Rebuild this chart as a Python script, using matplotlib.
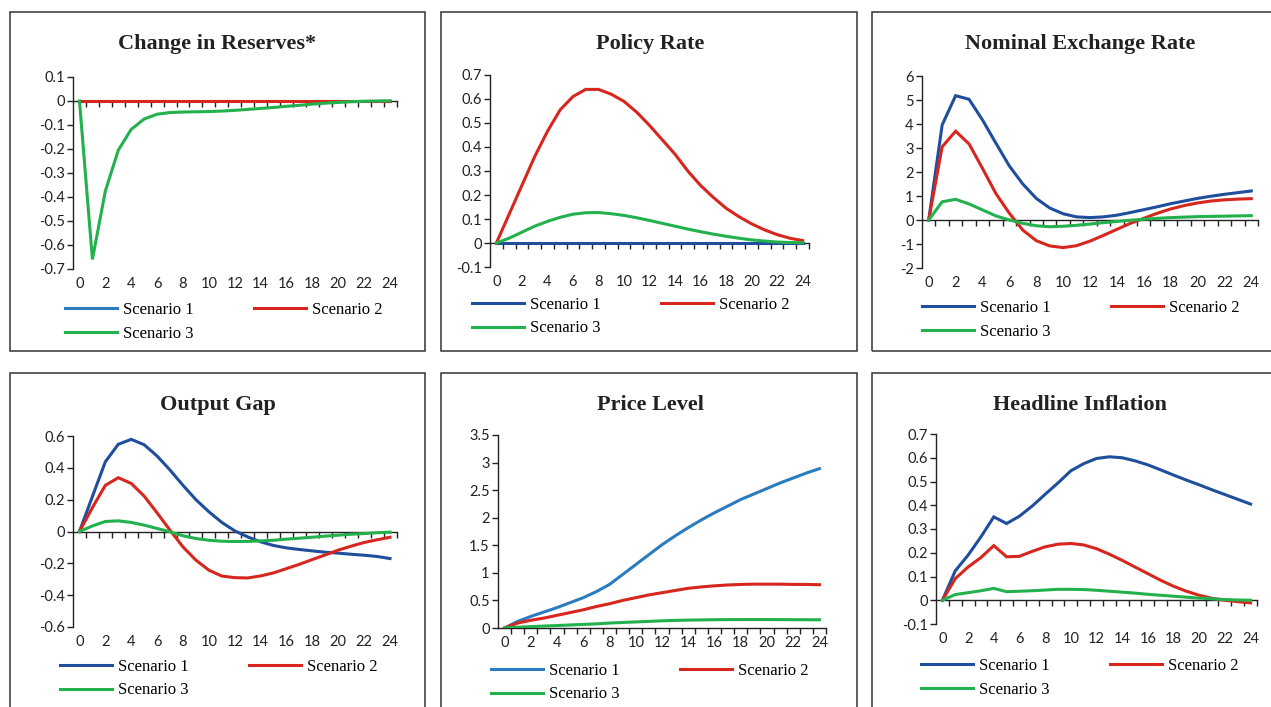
import matplotlib

matplotlib.use("Agg")

import matplotlib.pyplot as plt
from matplotlib.patches import Rectangle
from matplotlib.ticker import FuncFormatter

plt.rcParams["axes.unicode_minus"] = False

W, H = 1271, 707
TICK_FONT = "Lato"
TEXT_FONT = "Liberation Serif"

BLUE_LIGHT = "#2b7bbf"
BLUE_DARK = "#1f4e9c"
RED = "#d7261e"
GREEN = "#22b14c"

periods = list(range(25))
x_labels = list(range(0, 25, 2))
scenarios = ["Scenario 1", "Scenario 2", "Scenario 3"]

# Change in Reserves*
reserves_s1 = [0.0] * 25
reserves_s2 = [0.0] * 25
reserves_s3 = [0, -0.66, -0.375, -0.205, -0.118, -0.075, -0.055, -0.048, -0.046, -0.045,
               -0.044, -0.042, -0.039, -0.035, -0.031, -0.027, -0.022, -0.018, -0.013,
               -0.009, -0.006, -0.003, -0.001, 0.0, 0.001]
reserves_ticks = [0.1, 0, -0.1, -0.2, -0.3, -0.4, -0.5, -0.6, -0.7]

# Policy Rate
policy_s1 = [0.0] * 25
policy_s2 = [0, 0.12, 0.24, 0.36, 0.465, 0.555, 0.61, 0.64, 0.64, 0.62, 0.59, 0.545, 0.49,
             0.43, 0.37, 0.30, 0.24, 0.19, 0.145, 0.11, 0.08, 0.055, 0.035, 0.02, 0.01]
policy_s3 = [0, 0.02, 0.045, 0.07, 0.09, 0.107, 0.12, 0.126, 0.127, 0.122, 0.115, 0.105,
             0.094, 0.082, 0.07, 0.058, 0.047, 0.037, 0.028, 0.02, 0.013, 0.008, 0.004,
             0.002, 0.001]
policy_ticks = [0.7, 0.6, 0.5, 0.4, 0.3, 0.2, 0.1, 0, -0.1]

# Nominal Exchange Rate
fx_s1 = [0, 3.96, 5.18, 5.03, 4.17, 3.2, 2.25, 1.5, 0.9, 0.5, 0.26, 0.13, 0.1, 0.13, 0.2,
         0.31, 0.43, 0.55, 0.68, 0.79, 0.9, 0.99, 1.07, 1.14, 1.21]
fx_s2 = [0, 3.05, 3.7, 3.17, 2.15, 1.1, 0.28, -0.42, -0.86, -1.08, -1.15, -1.07, -0.88,
         -0.64, -0.39, -0.14, 0.07, 0.28, 0.46, 0.6, 0.71, 0.79, 0.84, 0.87, 0.89]
fx_s3 = [0, 0.76, 0.86, 0.67, 0.42, 0.17, 0.0, -0.14, -0.24, -0.28, -0.26, -0.22, -0.17,
         -0.11, -0.06, -0.01, 0.03, 0.07, 0.1, 0.12, 0.14, 0.15, 0.16, 0.17, 0.18]
fx_ticks = [6, 5, 4, 3, 2, 1, 0, -1, -2]

# Output Gap
gap_s1 = [0, 0.22, 0.438, 0.548, 0.579, 0.545, 0.474, 0.386, 0.29, 0.2, 0.124, 0.057,
          0.004, -0.034, -0.065, -0.088, -0.103, -0.113, -0.122, -0.13, -0.136, -0.143,
          -0.149, -0.157, -0.17]
gap_s2 = [0, 0.15, 0.29, 0.338, 0.302, 0.222, 0.117, 0.008, -0.097, -0.18, -0.243, -0.28,
          -0.29, -0.292, -0.279, -0.26, -0.233, -0.206, -0.176, -0.147, -0.117, -0.092,
          -0.069, -0.052, -0.036]
gap_s3 = [0, 0.035, 0.063, 0.067, 0.057, 0.04, 0.019, -0.002, -0.027, -0.044, -0.055,
          -0.061, -0.063, -0.062, -0.059, -0.055, -0.048, -0.042, -0.036, -0.029, -0.023,
          -0.017, -0.013, -0.008, -0.004]
gap_ticks = [0.6, 0.4, 0.2, 0, -0.2, -0.4, -0.6]

# Price Level
price_s1 = [0, 0.12, 0.21, 0.29, 0.37, 0.46, 0.55, 0.66, 0.79, 0.97, 1.15, 1.33, 1.51,
            1.67, 1.82, 1.96, 2.09, 2.21, 2.33, 2.43, 2.53, 2.63, 2.72, 2.81, 2.89]
price_s2 = [0, 0.09, 0.14, 0.18, 0.23, 0.28, 0.33, 0.39, 0.44, 0.5, 0.55, 0.6, 0.64, 0.68,
            0.72, 0.745, 0.765, 0.78, 0.79, 0.795, 0.795, 0.795, 0.79, 0.79, 0.785]
price_s3 = [0, 0.015, 0.025, 0.035, 0.045, 0.055, 0.065, 0.075, 0.09, 0.1, 0.11, 0.12, 0.13,
            0.138, 0.143, 0.147, 0.15, 0.152, 0.153, 0.153, 0.153, 0.152, 0.151, 0.15, 0.149]
price_ticks = [3.5, 3, 2.5, 2, 1.5, 1, 0.5, 0]

# Headline Inflation
infl_s1 = [0, 0.124, 0.19, 0.267, 0.351, 0.323, 0.354, 0.397, 0.446, 0.494, 0.545, 0.575,
           0.597, 0.604, 0.6, 0.587, 0.57, 0.549, 0.527, 0.506, 0.486, 0.465, 0.445,
           0.425, 0.405]
infl_s2 = [0, 0.091, 0.14, 0.18, 0.23, 0.183, 0.185, 0.206, 0.225, 0.236, 0.239, 0.233,
           0.217, 0.194, 0.168, 0.14, 0.112, 0.084, 0.059, 0.038, 0.021, 0.008, 0.0,
           -0.006, -0.011]
infl_s3 = [0, 0.024, 0.032, 0.04, 0.05, 0.036, 0.038, 0.04, 0.043, 0.046, 0.046, 0.045,
           0.042, 0.038, 0.034, 0.03, 0.025, 0.021, 0.017, 0.013, 0.009, 0.006, 0.003,
           0.001, 0.0]
infl_ticks = [0.7, 0.6, 0.5, 0.4, 0.3, 0.2, 0.1, 0, -0.1]

# title, series, y ticks, blue shade, box / axes / legend / title positions (px)
panels = [
    ("Change in Reserves*", (reserves_s1, reserves_s2, reserves_s3), reserves_ticks, BLUE_LIGHT,
     (10, 12, 425, 351), (73, 77, 396.5, 269), (65, 309), (217.5, 42)),
    ("Policy Rate", (policy_s1, policy_s2, policy_s3), policy_ticks, BLUE_DARK,
     (441, 12, 857, 351), (490, 75, 809, 267), (472, 304), (650, 42)),
    ("Nominal Exchange Rate", (fx_s1, fx_s2, fx_s3), fx_ticks, BLUE_DARK,
     (872, 12, 1287, 351), (922, 76, 1258, 268), (922, 307), (1080, 42)),
    ("Output Gap", (gap_s1, gap_s2, gap_s3), gap_ticks, BLUE_DARK,
     (10, 373, 425, 720), (73, 436, 396.5, 627), (60, 666), (217.5, 403)),
    ("Price Level", (price_s1, price_s2, price_s3), price_ticks, BLUE_LIGHT,
     (441, 373, 857, 720), (498, 435, 826, 628), (491, 670), (650, 403)),
    ("Headline Inflation", (infl_s1, infl_s2, infl_s3), infl_ticks, BLUE_DARK,
     (872, 373, 1287, 720), (936, 434, 1257, 624), (921, 665), (1080, 403)),
]


def fx(px):
    return px / W


def fy(px):
    return 1 - px / H


def fmt_tick(v, _pos=None):
    s = f"{round(v, 3):g}"
    return "0" if s == "-0" else s


fig = plt.figure(figsize=(W / 100, H / 100), dpi=100)

for title, series, yticks, blue, box, axbox, leg_xy, title_xy in panels:
    bl, bt, br, bb = box
    fig.add_artist(Rectangle((fx(bl), fy(bb)), fx(br - bl), (bb - bt) / H,
                             transform=fig.transFigure, fill=False,
                             edgecolor="#333333", linewidth=1.1, clip_on=False))
    fig.text(fx(title_xy[0]), fy(title_xy[1] + 1.5), title, ha="center", va="center",
             fontsize=16, fontweight="bold", family=TEXT_FONT, color="#222222")

    l, t, r, b = axbox
    ax = fig.add_axes([fx(l), fy(b), fx(r - l), (b - t) / H])
    ax.patch.set_alpha(0)
    handles = []
    for values, color, name in zip(series, (blue, RED, GREEN), scenarios):
        line, = ax.plot(periods, values, color=color, linewidth=2.2, label=name,
                        solid_joinstyle="miter", zorder=3)
        handles.append(line)

    ax.set_xlim(-0.5, 24.5)
    ax.set_ylim(min(yticks), max(yticks))
    ax.set_yticks(yticks)
    ax.yaxis.set_major_formatter(FuncFormatter(fmt_tick))
    for side in ("top", "right"):
        ax.spines[side].set_visible(False)
    ax.spines["bottom"].set_position(("data", 0))
    for side in ("bottom", "left"):
        ax.spines[side].set_color("#222222")
        ax.spines[side].set_linewidth(1.0)
    ax.set_xticks([p + 0.5 for p in periods])
    ax.tick_params(axis="x", direction="out", length=4, width=1.0, color="#222222",
                   labelbottom=False)
    ax.tick_params(axis="y", direction="out", length=4, width=1.0, color="#222222",
                   pad=2, labelsize=10.5, labelcolor="#222222")
    for lab in ax.get_yticklabels():
        lab.set_family(TICK_FONT)

    sec = ax.secondary_xaxis("bottom")
    sec.spines["bottom"].set_visible(False)
    sec.set_xticks(x_labels)
    sec.tick_params(length=0, pad=6, labelsize=10.5, labelcolor="#222222")
    for lab in sec.get_xticklabels():
        lab.set_family(TICK_FONT)

    # legend fills column-wise: order so row 1 reads Scenario 1, Scenario 2
    order = [0, 2, 1]
    fig.legend([handles[i] for i in order], [scenarios[i] for i in order],
               loc="upper left",
               bbox_to_anchor=(fx(leg_xy[0]), fy(leg_xy[1] - 7)),
               bbox_transform=fig.transFigure, ncol=2, frameon=False,
               borderpad=0, borderaxespad=0, handlelength=3.1, handletextpad=0.36,
               columnspacing=3.66, labelspacing=0.45,
               prop={"family": TEXT_FONT, "size": 12})

fig.savefig("out.png", dpi=100)
